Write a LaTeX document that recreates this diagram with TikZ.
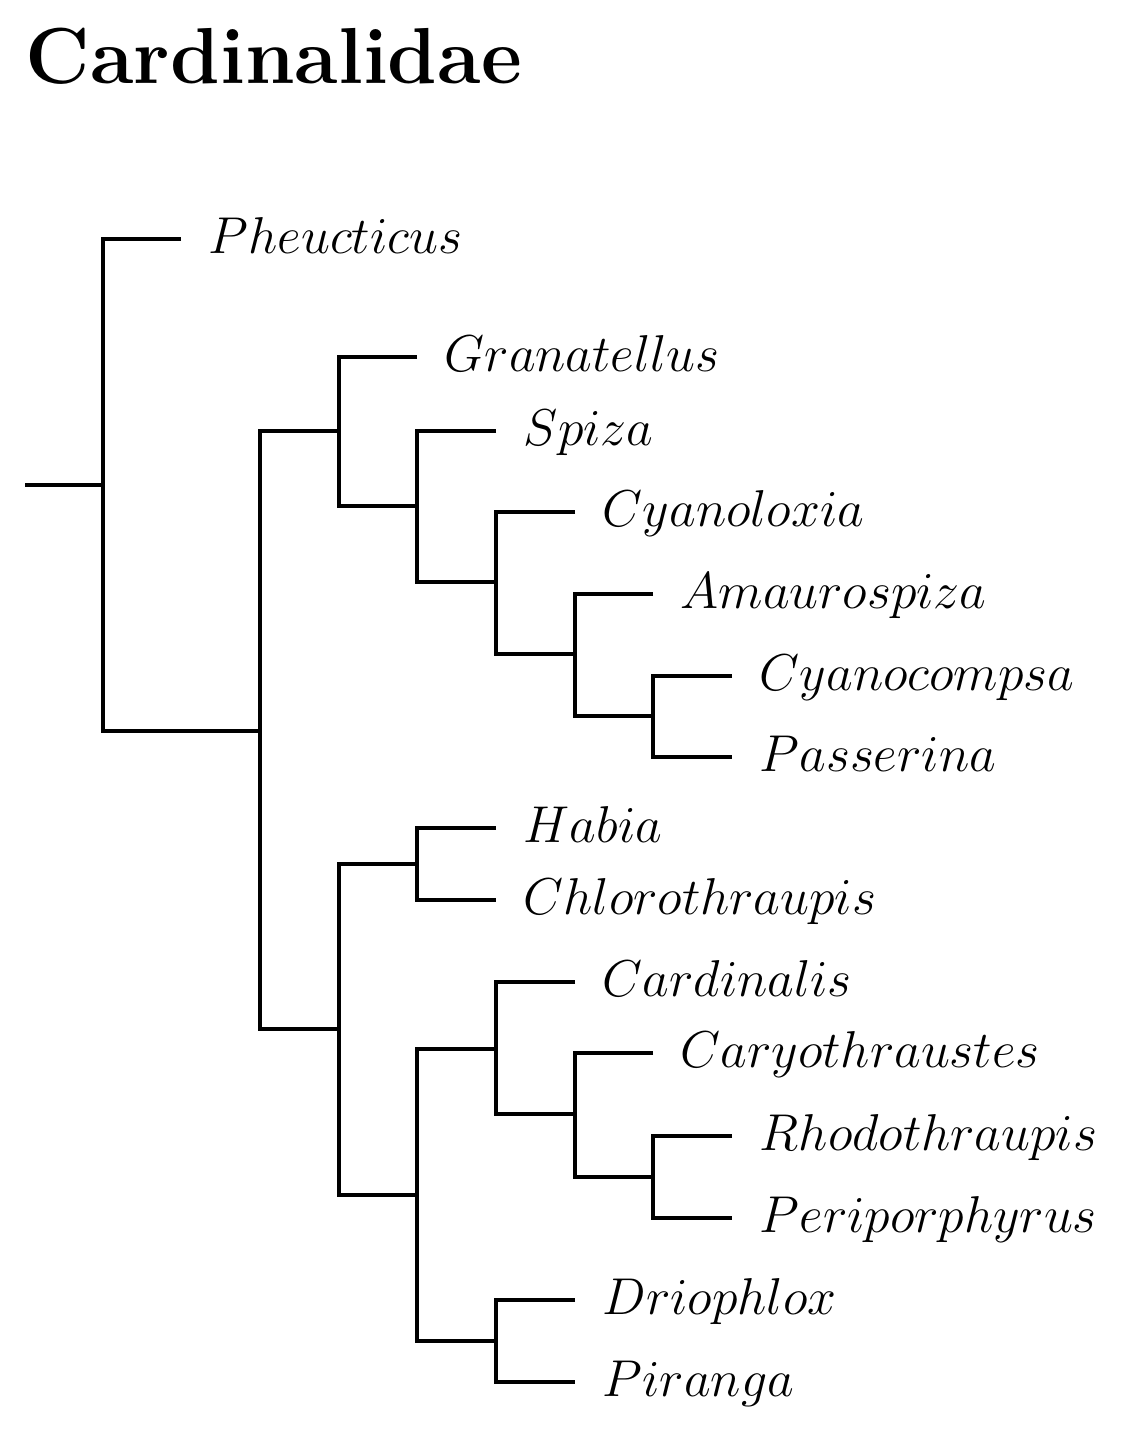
\documentclass[tikz,border=0pt]{standalone}
\usetikzlibrary{positioning}

\begin{document}
\begin{tikzpicture}[x=0.2316pt, y=-0.2316pt, line width=0.9pt, line join=miter,
    taxon/.style={anchor=base west, inner sep=0pt, xshift=6pt, yshift=-3.4pt, font=\fontsize{12}{14}\selectfont}]
    \useasboundingbox (0,0) rectangle (1127,1445);

    % Title
    \node[anchor=base west, inner sep=0pt, font=\fontsize{18.4}{22}\selectfont\bfseries] (title) at (24,83) {Cardinalidae};

    % Internal nodes
    \coordinate (stem) at (25,485);
    \coordinate (root) at (103,485);
    \coordinate (n1) at (260,731);
    \coordinate (n2) at (339,431);
    \coordinate (n3) at (417,506);
    \coordinate (n4) at (496,582);
    \coordinate (n5) at (575,654);
    \coordinate (n6) at (653,716);
    \coordinate (n7) at (339,1029);
    \coordinate (n8) at (417,864);
    \coordinate (n9) at (417,1195);
    \coordinate (n10) at (496,1049);
    \coordinate (n11) at (575,1114);
    \coordinate (n12) at (653,1177);
    \coordinate (n13) at (496,1341);

    % Tips
    \coordinate (pheu) at (181,239);
    \coordinate (gran) at (417,357);
    \coordinate (spiz) at (496,431);
    \coordinate (cyal) at (575,512);
    \coordinate (amau) at (653,594);
    \coordinate (cyac) at (732,676);
    \coordinate (pass) at (732,757);
    \coordinate (habi) at (496,828);
    \coordinate (chlo) at (496,900);
    \coordinate (card) at (575,982);
    \coordinate (cary) at (653,1053);
    \coordinate (rhod) at (732,1136);
    \coordinate (peri) at (732,1218);
    \coordinate (drio) at (575,1300);
    \coordinate (pira) at (575,1382);

    % Branches
    \draw (stem) -- (root);
    \draw (pheu) -| (root) |- (n1);
    \draw (n2) -| (n1) |- (n7);
    \draw (gran) -| (n2) |- (n3);
    \draw (spiz) -| (n3) |- (n4);
    \draw (cyal) -| (n4) |- (n5);
    \draw (amau) -| (n5) |- (n6);
    \draw (cyac) -| (n6) |- (pass);
    \draw (n8) -| (n7) |- (n9);
    \draw (habi) -| (n8) |- (chlo);
    \draw (n10) -| (n9) |- (n13);
    \draw (card) -| (n10) |- (n11);
    \draw (cary) -| (n11) |- (n12);
    \draw (rhod) -| (n12) |- (peri);
    \draw (drio) -| (n13) |- (pira);

    % Taxon labels
    \node[taxon] (pheucticus) at (pheu) {$Pheucticus$};
    \node[taxon] (granatellus) at (gran) {$Granatellus$};
    \node[taxon] (spiza) at (spiz) {$Spiza$};
    \node[taxon] (cyanoloxia) at (cyal) {$Cyanoloxia$};
    \node[taxon] (amaurospiza) at (amau) {$Amaurospiza$};
    \node[taxon] (cyanocompsa) at (cyac) {$Cyanocompsa$};
    \node[taxon] (passerina) at (pass) {$Passerina$};
    \node[taxon] (habia) at (habi) {$Habia$};
    \node[taxon] (chlorothraupis) at (chlo) {$Chlorothraupis$};
    \node[taxon] (cardinalis) at (card) {$Cardinalis$};
    \node[taxon] (caryothraustes) at (cary) {$Caryothraustes$};
    \node[taxon] (rhodothraupis) at (rhod) {$Rhodothraupis$};
    \node[taxon] (periporphyrus) at (peri) {$Periporphyrus$};
    \node[taxon] (driophlox) at (drio) {$Driophlox$};
    \node[taxon] (piranga) at (pira) {$Piranga$};
\end{tikzpicture}
\end{document}
